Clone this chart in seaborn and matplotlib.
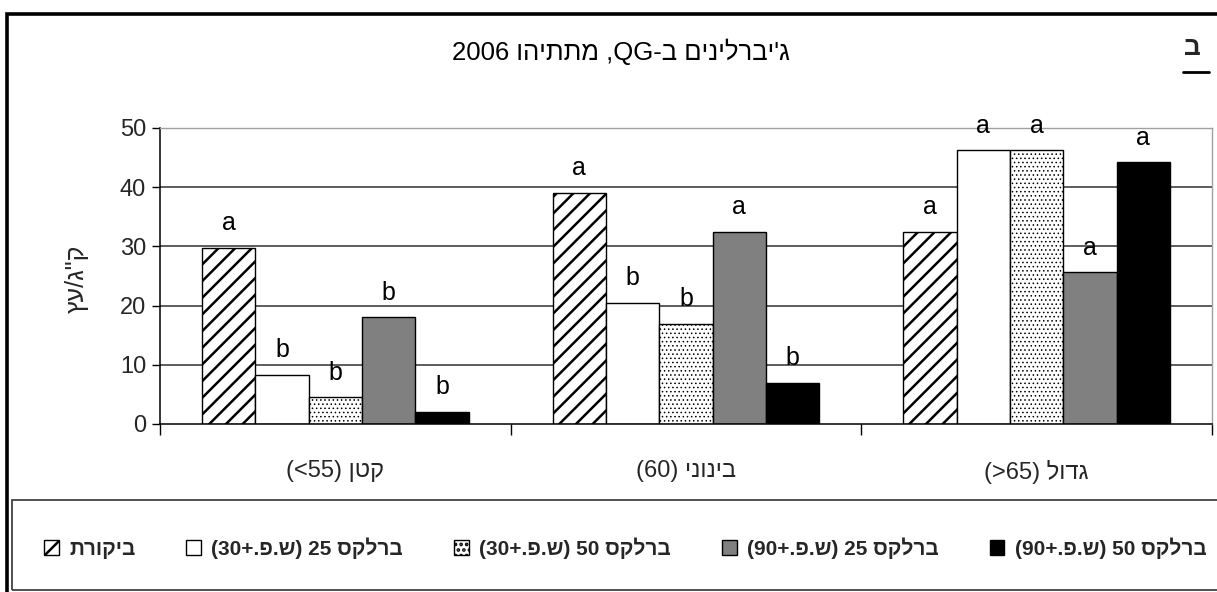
import matplotlib
matplotlib.use("Agg")
import matplotlib.pyplot as plt
import numpy as np
import pandas as pd
import seaborn as sns
from matplotlib.patches import Patch, Rectangle
from matplotlib.lines import Line2D

# ---- data (Hebrew strings stored in visual left-to-right order) ----
categories = ["(<55) ןטק", "(60) ינוניב", "(>65) לודג"]
series = ["תרוקיב",
          "(30+.פ.ש) 25 סקלרב",
          "(30+.פ.ש) 50 סקלרב",
          "(90+.פ.ש) 25 סקלרב",
          "(90+.פ.ש) 50 סקלרב"]
control = [29.8, 39.0, 32.4]
brelex25_30 = [8.3, 20.4, 46.2]
brelex50_30 = [4.5, 16.9, 46.2]
brelex25_90 = [18.0, 32.4, 25.6]
brelex50_90 = [2.0, 6.9, 44.2]
letters_control = ["a", "a", "a"]
letters_b25_30 = ["b", "b", "a"]
letters_b50_30 = ["b", "b", "a"]
letters_b25_90 = ["b", "a", "a"]
letters_b50_90 = ["b", "b", "a"]
yticks = [0, 10, 20, 30, 40, 50]
title = "2006 והיתתמ ,QG-ב םינילרבי'ג"
ylabel = 'ץע/ג"ק'
panel = "ב"

values = [control, brelex25_30, brelex50_30, brelex25_90, brelex50_90]
letters = [letters_control, letters_b25_30, letters_b50_30, letters_b25_90, letters_b50_90]
colors = ["white", "white", "white", "#808080", "black"]
hatches = ["//", "", "....", "", ""]

df = pd.DataFrame({
    "category": [c for s in series for c in categories],
    "series": [s for s in series for c in categories],
    "value": [v for vals in values for v in vals],
})

FONT = ["Liberation Sans", "DejaVu Sans"]
sns.set_theme(style="white")
plt.rcParams["font.family"] = FONT
plt.rcParams["hatch.linewidth"] = 1.8

W, H = 1217, 592
fig = plt.figure(figsize=(W / 100, H / 100), dpi=100)
ax = fig.add_axes([160 / W, 1 - 424 / H, (1212 - 160) / W, (424 - 128) / H])

sns.barplot(data=df, x="category", y="value", hue="series", order=categories,
            hue_order=series, palette=colors, saturation=1, width=0.76,
            edgecolor="black", linewidth=1.0, legend=False, ax=ax)

for cont, h in zip(ax.containers, hatches):
    for bar in cont:
        if h:
            bar.set_hatch(h)
            if h.startswith("."):
                try:
                    bar.set_hatch_linewidth(0.6)
                except Exception:
                    pass

for cont, lets in zip(ax.containers, letters):
    for bar, l in zip(cont, lets):
        ax.text(bar.get_x() + bar.get_width() / 2, bar.get_height() + 3.0, l,
                ha="center", va="baseline", fontsize=18, color="black")

ax.set_xlim(-0.5, len(categories) - 0.5)
ax.set_ylim(0, 50)
ax.set_yticks(yticks)
ax.set_yticklabels([str(t) for t in yticks], fontsize=17)
ax.set_xticks(range(len(categories)))
ax.set_xticklabels(categories, fontsize=17)
ax.set_xticks(np.arange(-0.5, len(categories), 1.0), minor=True)
ax.tick_params(axis="x", which="major", length=0, pad=26)
ax.tick_params(axis="x", which="minor", length=8, width=1, color="black", direction="out", bottom=True)
ax.tick_params(axis="y", which="major", length=6, width=1, color="black", direction="out", left=True, pad=4)
ax.set_xlabel("")
ax.set_ylabel(ylabel, fontsize=18)
ax.yaxis.set_label_coords(-0.068, 0.49)

ax.yaxis.grid(True, color="#303030", linewidth=1.1)
ax.set_axisbelow(True)
gl = ax.get_ygridlines()
gl[0].set_visible(False)
gl[-1].set_visible(False)

for s in ["left", "bottom"]:
    ax.spines[s].set_color("black")
    ax.spines[s].set_linewidth(1.1)
for s in ["top", "right"]:
    ax.spines[s].set_color("#a0a0a0")
    ax.spines[s].set_linewidth(1.0)

# title and panel letter
fig.text(621 / W, 1 - 52 / H, title, ha="center", va="center", fontsize=18.5, color="black")
fig.text(1192 / W, 1 - 48 / H, panel, ha="center", va="center", fontsize=19, fontweight="bold")
fig.add_artist(Line2D([1183 / W, 1209 / W], [1 - 72 / H, 1 - 72 / H], color="black", lw=2.0,
                      transform=fig.transFigure))

# legend box and entries
fig.add_artist(Rectangle((12 / W, 1 - 590 / H), 1.0, 90 / H, transform=fig.transFigure,
                         fill=False, edgecolor="#333333", linewidth=1.2, clip_on=False))
handles = [Patch(facecolor=c, edgecolor="black", hatch=h if h != "...." else "...", linewidth=1)
           for c, h in zip(colors, hatches)]
leg = fig.legend(handles, series, loc="center left", bbox_to_anchor=(44 / W, 1 - 548 / H),
                 ncol=5, frameon=False,
                 prop=dict(family=FONT, size=15, weight="bold"), handlelength=0.7, handleheight=0.7,
                 handletextpad=0.5, borderpad=0, borderaxespad=0, columnspacing=2.45)

# outer frame
fig.add_artist(Rectangle((7 / W, -0.05), 1.2, (1 - 14 / H) + 0.05, transform=fig.transFigure,
                         fill=False, edgecolor="black", linewidth=2.6, clip_on=False))

fig.savefig("out.png", dpi=100)
